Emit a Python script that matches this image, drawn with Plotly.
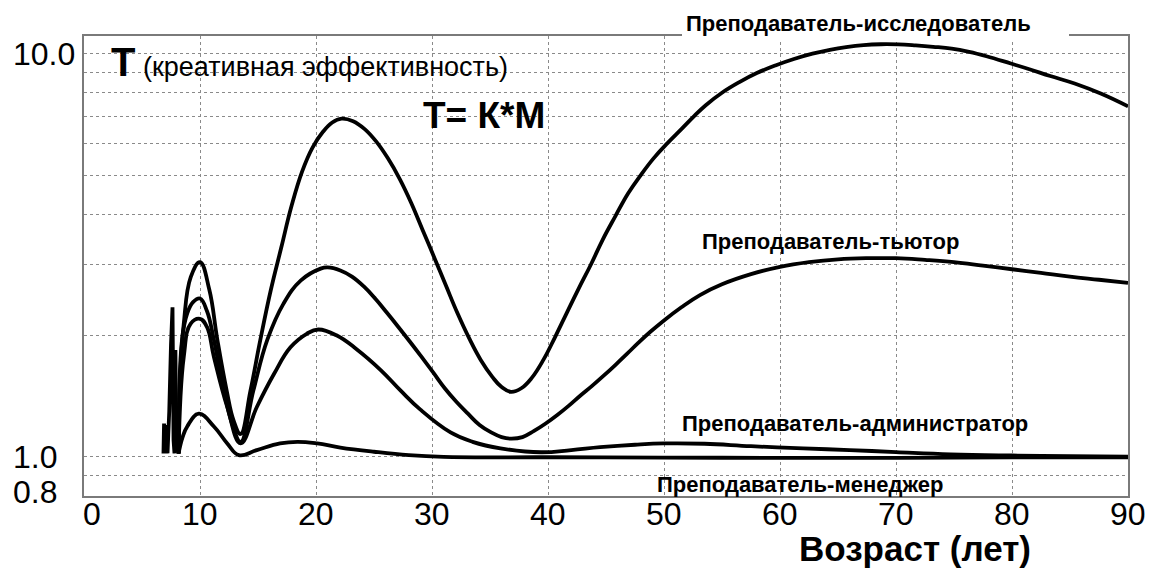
import numpy as np
import plotly.graph_objects as go

# ---------------- data ----------------
# initial fast oscillations (age ~7-8)
spike_x = [6.85, 6.9, 7.0, 7.1, 7.2, 7.35, 7.5, 7.63, 7.72, 7.8, 7.88, 7.96, 8.05, 8.15]
spike_y = [1.02, 1.21, 1.02, 1.2, 1.02, 1.3, 1.9, 2.35, 1.1, 1.02, 1.84, 1.03, 1.25, 1.02]

# Преподаватель-исследователь
res_x = [8.15, 8.3, 8.6, 9.2, 10.0, 10.8, 11.5, 12.3, 12.9, 13.5, 14.35, 15.2, 16.1, 17.0, 17.9,
         18.8, 19.7, 20.6, 21.4, 22.2, 23.2, 24.2, 25.2, 26.2, 27.2, 28.2, 29.2, 30.2, 31.2, 32.2,
         33.2, 34.2, 35.2, 36.0, 36.8, 37.7, 38.6, 39.6, 40.6, 41.6, 42.6, 43.7, 44.7, 45.8, 46.9,
         48.0, 49.1, 50.3, 51.5, 52.6, 53.6, 55.0, 56.5, 58.0, 59.6, 61.2, 62.8, 64.3, 65.7, 67.2,
         68.7, 70.2, 71.7, 73.2, 74.8, 76.3, 77.8, 79.9, 81.5, 83.3, 85.4, 87.7, 90.0]
res_y = [1.02, 1.61, 2.14, 2.79, 3.04, 2.6, 1.95, 1.46, 1.23, 1.14, 1.46, 1.95, 2.59, 3.3, 4.2,
         5.1, 5.85, 6.4, 6.75, 6.9, 6.8, 6.5, 6.05, 5.5, 4.9, 4.27, 3.65, 3.12, 2.66, 2.27,
         1.97, 1.74, 1.58, 1.49, 1.45, 1.48, 1.57, 1.74, 1.98, 2.27, 2.6, 3.0, 3.45, 3.95, 4.5,
         5.0, 5.5, 6.0, 6.5, 7.0, 7.45, 8.0, 8.5, 8.95, 9.35, 9.7, 10.0, 10.22, 10.38, 10.5,
         10.55, 10.54, 10.48, 10.4, 10.29, 10.1, 9.85, 9.45, 9.15, 8.8, 8.43, 7.95, 7.40]

# Преподаватель-тьютор
tut_x = [8.15, 8.45, 8.9, 9.4, 10.0, 10.6, 11.2, 12.05, 12.8, 13.5, 14.6, 15.8, 17.2, 18.7, 20.4,
         21.0, 22.1, 23.1, 24.1, 25.1, 26.1, 27.1, 28.1, 29.1, 30.1, 31.1, 32.1, 33.1, 34.1, 35.1,
         36.0, 36.8, 37.8, 38.8, 39.8, 40.8, 41.8, 42.8, 43.8, 44.8, 45.8, 46.8, 47.8, 48.8, 50.0,
         51.5, 53.1, 55.0, 57.5, 60.0, 62.5, 65.0, 67.5, 70.0, 72.5, 75.0, 77.5, 80.0, 82.5, 85.0,
         87.5, 90.0]
tut_y = [1.02, 1.95, 2.27, 2.42, 2.47, 2.3, 1.95, 1.46, 1.2, 1.09, 1.46, 1.95, 2.4, 2.74, 2.93,
         2.95, 2.9, 2.8, 2.65, 2.47, 2.28, 2.1, 1.93, 1.77, 1.62, 1.48, 1.37, 1.28, 1.2, 1.15,
         1.12, 1.11, 1.12, 1.16, 1.21, 1.27, 1.34, 1.42, 1.5, 1.59, 1.69, 1.8, 1.92, 2.04, 2.18,
         2.35, 2.52, 2.68, 2.84, 2.96, 3.04, 3.09, 3.11, 3.11, 3.08, 3.04, 2.98, 2.92, 2.86, 2.8,
         2.75, 2.70]

# Преподаватель-администратор
adm_x = [8.15, 8.6, 9.2, 10.0, 10.6, 11.2, 12.35, 13.5, 14.9, 16.4, 17.8, 19.2, 20.2, 21.8, 23.5,
         25.6, 27.3, 29.0, 31.6, 33.5, 35.9, 39.4, 42.0, 44.5, 47.5, 50.0, 53.5, 57.5, 62.0, 66.0,
         70.0, 74.7, 80.0, 85.0, 90.0]
adm_y = [1.02, 1.77, 2.14, 2.20, 2.1, 1.77, 1.33, 1.08, 1.33, 1.61, 1.87, 2.02, 2.07, 2.0, 1.85,
         1.64, 1.46, 1.31, 1.15, 1.09, 1.05, 1.027, 1.04, 1.057, 1.072, 1.08, 1.078, 1.063, 1.05, 1.04,
         1.028, 1.015, 1.008, 1.004, 1.002]

# Преподаватель-менеджер
man_x = [8.15, 8.5, 8.9, 9.9, 11.2, 12.35, 13.35, 14.9, 16.9, 18.4, 20.1, 22.1, 25.0, 28.0, 31.0,
         40.0, 50.0, 60.0, 70.0, 80.0, 90.0]
man_y = [1.02, 1.12, 1.19, 1.28, 1.19, 1.08, 1.01, 1.04, 1.08, 1.09, 1.08, 1.055, 1.03, 1.01, 1.0,
         0.998, 0.996, 0.995, 0.995, 0.997, 0.998]

x_ticks = [0, 10, 20, 30, 40, 50, 60, 70, 80, 90]
x_ticktext = ["0", "10", "20", "30", "40", "50", "60", "70", "80", "90"]
y_grid = [0.9, 1, 2, 3, 4, 5, 6, 7, 8, 9, 10]
y_label_vals = [10.0, 1.0, 0.8]
y_label_text = ["10.0", "1.0", "0.8"]

# ---------------- figure ----------------
W, H = 1150, 569
L, R, T, B = 84, 22, 36, 73
PW, PH = W - L - R, H - T - B


def px(xp):
    return (xp - L) / PW


def py(yp):
    return (H - B - yp) / PH


FONT = "Liberation Sans, Arial, Helvetica, sans-serif"
line_style = dict(color="black", width=3.8, shape="spline", smoothing=1.2)

fig = go.Figure()
fig.add_trace(go.Scatter(x=spike_x, y=spike_y, mode="lines",
                         line=dict(color="black", width=3.8), showlegend=False, hoverinfo="skip"))
for xs, ys in [(res_x, res_y), (tut_x, tut_y), (adm_x, adm_y), (man_x, man_y)]:
    fig.add_trace(go.Scatter(x=xs, y=ys, mode="lines", line=line_style,
                             showlegend=False, hoverinfo="skip"))

grid = dict(showgrid=True, gridcolor="#8a8a8a", gridwidth=1, griddash="dot",
            showline=True, linecolor="#7a7a7a", linewidth=1.5, mirror=True,
            zeroline=False, ticks="")

fig.update_xaxes(range=[0, 90], tickvals=x_ticks, showticklabels=False, **grid)
fig.update_yaxes(type="log", range=[np.log10(0.8), np.log10(11.06)], tickvals=y_grid,
                 showticklabels=False, **grid)

annotations = []
for v, t in zip(y_label_vals, y_label_text):
    annotations.append(dict(x=px(11), xref="paper", y=np.log10(v), yref="y",
                            text=t, showarrow=False, xanchor="left", yanchor="middle",
                            yshift=4 if v == 0.8 else 0,
                            font=dict(family=FONT, size=32, color="black")))
for v, t in zip(x_ticks, x_ticktext):
    annotations.append(dict(x=v, xref="x", y=py(514), yref="paper", text=t, showarrow=False,
                            xanchor="center", yanchor="middle", xshift=8 if v == 0 else 0,
                            font=dict(family=FONT, size=32, color="black")))


def label(text, cx, cy, size, anchor="center", pad=1):
    return dict(x=px(cx), y=py(cy), xref="paper", yref="paper", xanchor=anchor, yanchor="middle",
                text=text, showarrow=False, borderpad=pad,
                font=dict(family=FONT, size=size, color="black"))


annotations += [
    label("<b><span style='font-size:40px'>Т</span></b> (креативная эффективность)", 109, 62, 27,
          anchor="left"),
    label("<b>Т= К*М</b>", 484, 115, 37),
    label("<b>Преподаватель-исследователь</b>", 858, 24, 22),
    label("<b>Преподаватель-тьютор</b>", 830, 241, 22),
    label("<b>Преподаватель-администратор</b>", 855, 423, 22),
    label("<b>Преподаватель-менеджер</b>", 800, 484, 22),
    label("<b>Возраст (лет)</b>", 915, 548, 35, pad=0),
]

shapes = [
    dict(type="rect", xref="paper", yref="paper", x0=px(101), x1=px(559), y0=py(84), y1=py(44),
         fillcolor="white", line=dict(width=0), layer="between"),
    dict(type="rect", xref="paper", yref="paper", x0=px(398), x1=px(574), y0=py(131), y1=py(100),
         fillcolor="white", line=dict(width=0), layer="between"),
    dict(type="rect", xref="paper", yref="paper", x0=px(682), x1=px(1069), y0=py(39), y1=py(30),
         fillcolor="white", line=dict(width=0), layer="above"),
    dict(type="rect", xref="paper", yref="paper", x0=px(650), x1=px(950), y0=py(492), y1=py(471),
         fillcolor="white", line=dict(width=0), layer="between"),
]

fig.update_layout(width=W, height=H, margin=dict(l=L, r=R, t=T, b=B, pad=0),
                  paper_bgcolor="white", plot_bgcolor="white",
                  annotations=annotations, shapes=shapes,
                  font=dict(family=FONT, color="black"))

fig.write_html("out.html", config={"displayModeBar": False},
               post_script="document.body.style.margin='0';document.body.style.overflow='hidden';")
